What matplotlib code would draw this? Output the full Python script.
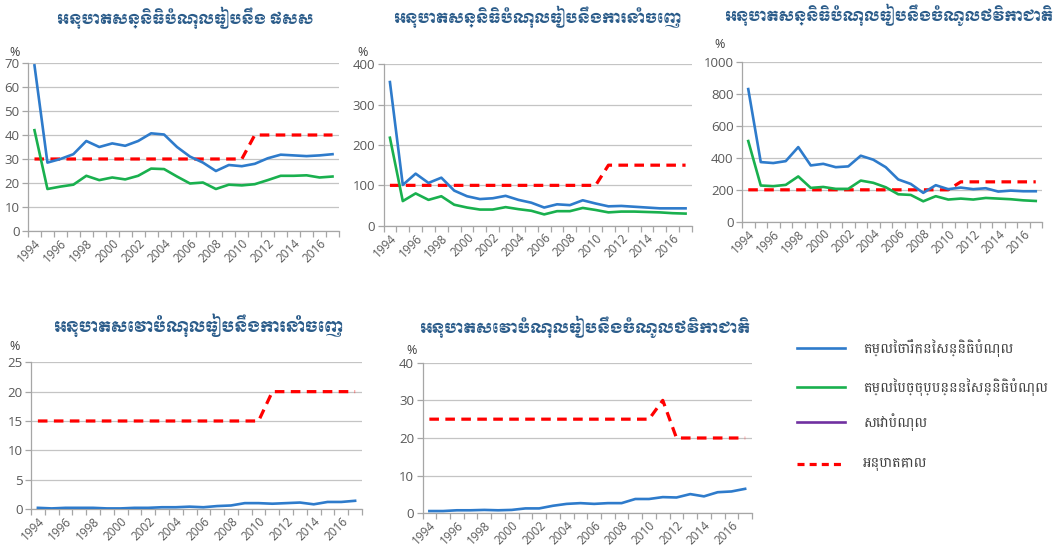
import matplotlib
matplotlib.use("Agg")
import matplotlib.pyplot as plt
from matplotlib.lines import Line2D

years = list(range(1994, 2018))
year_labels = [str(y) for y in range(1994, 2018, 2)]

titles = [
    "អនុបាតសន្និធិបំណុលធៀបនឹង ផសស",
    "អនុបាតសន្និធិបំណុលធៀបនឹងការនាំចេញ",
    "អនុបាតសន្និធិបំណុលធៀបនឹងចំណូលថវិកាជាតិ",
    "អនុបាតសេវាបំណុលធៀបនឹងការនាំចេញ",
    "អនុបាតសេវាបំណុលធៀបនឹងចំណូលថវិកាជាតិ",
]
legend_labels = [
    "តម្លៃចារឹកនៃសន្និធិបំណុល",
    "តម្លៃបច្ចុប្បន្ននៃសន្និធិបំណុល",
    "សេវាបំណុល",
    "អនុបាតគោល",
]

# Chart 1: debt stock / GDP
gdp_nominal = [69, 28.5, 30, 32, 37.5, 35, 36.5, 35.5, 37.5, 40.7, 40.2, 35,
               31, 28.5, 25, 27.5, 27, 28, 30.3, 31.8, 31.5, 31.2, 31.5, 32]
gdp_pv = [42, 17.5, 18.5, 19.3, 23, 21.2, 22.3, 21.5, 23, 26, 25.8, 22.7,
          19.8, 20.2, 17.5, 19.3, 19, 19.5, 21.2, 23, 23, 23.2, 22.3, 22.7]
gdp_threshold = [30] * 17 + [40] * 7

# Chart 2: debt stock / exports
exp_nominal = [356, 101, 129, 106, 119, 87, 73, 66, 68, 74, 64, 57,
               45, 53, 51, 63, 55, 48, 49, 47, 45, 43, 43, 43]
exp_pv = [218, 61, 80, 64, 73, 52, 45, 40, 40, 46, 41, 37,
          28, 36, 36, 44, 39, 33, 35, 35, 34, 33, 31, 30]
exp_threshold = [100] * 17 + [150] * 7

# Chart 3: debt stock / revenue
rev_nominal = [832, 374, 368, 380, 468, 353, 363, 342, 347, 414, 389, 342,
               265, 237, 181, 229, 204, 214, 204, 210, 189, 195, 191, 191]
rev_pv = [506, 227, 223, 231, 284, 212, 218, 206, 206, 258, 244, 216,
          172, 168, 128, 160, 139, 145, 139, 149, 145, 141, 134, 130]
rev_threshold = [200] * 17 + [250] * 7

# Chart 4: debt service / exports
ds_exp = [0.2, 0.1, 0.2, 0.2, 0.2, 0.1, 0.1, 0.2, 0.2, 0.3, 0.3, 0.4,
          0.3, 0.5, 0.6, 1.0, 1.0, 0.9, 1.0, 1.1, 0.8, 1.2, 1.2, 1.4]
ds_exp_threshold = [15] * 17 + [20] * 7

# Chart 5: debt service / revenue
ds_rev = [0.6, 0.6, 0.8, 0.8, 0.9, 0.8, 0.9, 1.3, 1.3, 2.0, 2.5, 2.7,
          2.5, 2.7, 2.7, 3.8, 3.8, 4.3, 4.2, 5.1, 4.5, 5.6, 5.8, 6.5]
ds_rev_threshold = [25] * 17 + [30] + [20] * 6

BLUE = "#2E7BCB"
GREEN = "#19B04E"
RED = "#FF0000"
PURPLE = "#7030A0"
TITLE_C = "#2B5C8A"
TICK_C = "#595959"
GRID_C = "#C4C4C4"
AXIS_C = "#A6A6A6"

W, H = 1061, 551
fig = plt.figure(figsize=(W / 100, H / 100), dpi=100)
renderer = fig.canvas.get_renderer()

def px_axes(left, right, top, bottom):
    return fig.add_axes([left / W, 1 - bottom / H, (right - left) / W, (bottom - top) / H])

def style(ax, ymax, ystep):
    ax.set_xlim(1993.5, 2017.5)
    ax.set_ylim(0, ymax)
    ax.set_yticks(list(range(0, ymax + 1, ystep)))
    ax.set_xticks(list(range(1994, 2018, 2)))
    ax.set_xticklabels(year_labels, rotation=45, ha="right", va="top",
                       rotation_mode="anchor", fontsize=8.5, color=TICK_C,
                       family="Open Sans")
    ax.set_xticks([y - 0.5 for y in range(1994, 2019)], minor=True)
    ax.tick_params(axis="x", which="major", length=0, pad=4)
    ax.tick_params(axis="x", which="minor", length=4, color=AXIS_C, width=0.9)
    ax.tick_params(axis="y", length=4, color=AXIS_C, width=0.9, pad=2,
                   labelsize=9.5, labelcolor=TICK_C)
    for lab in ax.get_yticklabels():
        lab.set_family("Open Sans")
    ax.grid(axis="y", color=GRID_C, lw=0.9)
    ax.set_axisbelow(True)
    for s in ("top", "right"):
        ax.spines[s].set_visible(False)
    for s in ("left", "bottom"):
        ax.spines[s].set_color(AXIS_C)
        ax.spines[s].set_linewidth(0.9)
    ax.patch.set_alpha(0)

LW = 1.9
DASH = (3.0, 2.0)

def threshold(ax, vals):
    ax.plot(years, vals, color=RED, lw=2.3, linestyle=(0, DASH), zorder=2)

axes_px = [
    (28, 339, 63, 231),
    (383.5, 692, 64.3, 225.7),
    (742, 1042, 62.3, 221.7),
    (31, 362, 362.3, 509),
    (422.5, 752, 362.7, 513.3),
]
# title centre x, centre y, target width (px)
title_pos = [(185, 18, 256), (537, 17, 287), (889, 15, 328), (199, 325, 288), (585, 327, 330)]
pct_pos = [(15, 52), (363, 52), (720, 44), (15, 347), (412, 350)]

axs = [px_axes(*a) for a in axes_px]

ax = axs[0]
style(ax, 70, 10)
threshold(ax, gdp_threshold)
ax.plot(years, gdp_nominal, color=BLUE, lw=LW, zorder=3)
ax.plot(years, gdp_pv, color=GREEN, lw=LW, zorder=3)

ax = axs[1]
style(ax, 400, 100)
threshold(ax, exp_threshold)
ax.plot(years, exp_nominal, color=BLUE, lw=LW, zorder=3)
ax.plot(years, exp_pv, color=GREEN, lw=LW, zorder=3)

ax = axs[2]
style(ax, 1000, 200)
threshold(ax, rev_threshold)
ax.plot(years, rev_nominal, color=BLUE, lw=LW, zorder=3)
ax.plot(years, rev_pv, color=GREEN, lw=LW, zorder=3)

ax = axs[3]
style(ax, 25, 5)
threshold(ax, ds_exp_threshold)
ax.plot(years, ds_exp, color=BLUE, lw=LW, zorder=3)

ax = axs[4]
style(ax, 40, 10)
threshold(ax, ds_rev_threshold)
ax.plot(years, ds_rev, color=BLUE, lw=LW, zorder=3)

def fit_text(x, y, s, target_w, fs0, **kw):
    t = fig.text(x / W, 1 - y / H, s, fontsize=fs0, **kw)
    w = t.get_window_extent(renderer).width
    if w > 0:
        t.set_fontsize(fs0 * target_w / w)
    return t

for (tx, ty, tw), s in zip(title_pos, titles):
    fit_text(tx, ty, s, tw, 12, ha="center", va="center", color=TITLE_C,
             family=["Moul", "DejaVu Sans"])

for (px, py) in pct_pos:
    fig.text(px / W, 1 - py / H, "%", ha="center", va="center", fontsize=9,
             color="#404040", family="Open Sans")

# Legend, drawn at the reference positions
leg_rows = [348, 387, 422, 464]
leg_styles = [
    dict(color=BLUE, lw=LW),
    dict(color=GREEN, lw=LW),
    dict(color=PURPLE, lw=LW),
    dict(color=RED, lw=2.3, linestyle=(0, (2.2, 1.6))),
]
LEG_FAMILY = ["Battambang", "DejaVu Sans"]
# size legend font so the two long labels fit their reference widths
scales = []
for lab, target in ((legend_labels[0], 165), (legend_labels[1], 184)):
    probe = fig.text(0, 0, lab, fontsize=12, family=LEG_FAMILY)
    scales.append(target / probe.get_window_extent(renderer).width)
    probe.remove()
lfs = 12 * min(scales)
for y, lab, st in zip(leg_rows, legend_labels, leg_styles):
    fig.add_artist(Line2D([797 / W, 845 / W], [1 - y / H, 1 - y / H],
                          transform=fig.transFigure, **st))
    fig.text(863 / W, 1 - y / H, lab, ha="left", va="center", fontsize=lfs,
             color="#404040", family=LEG_FAMILY)

fig.savefig("out.png", dpi=100)
